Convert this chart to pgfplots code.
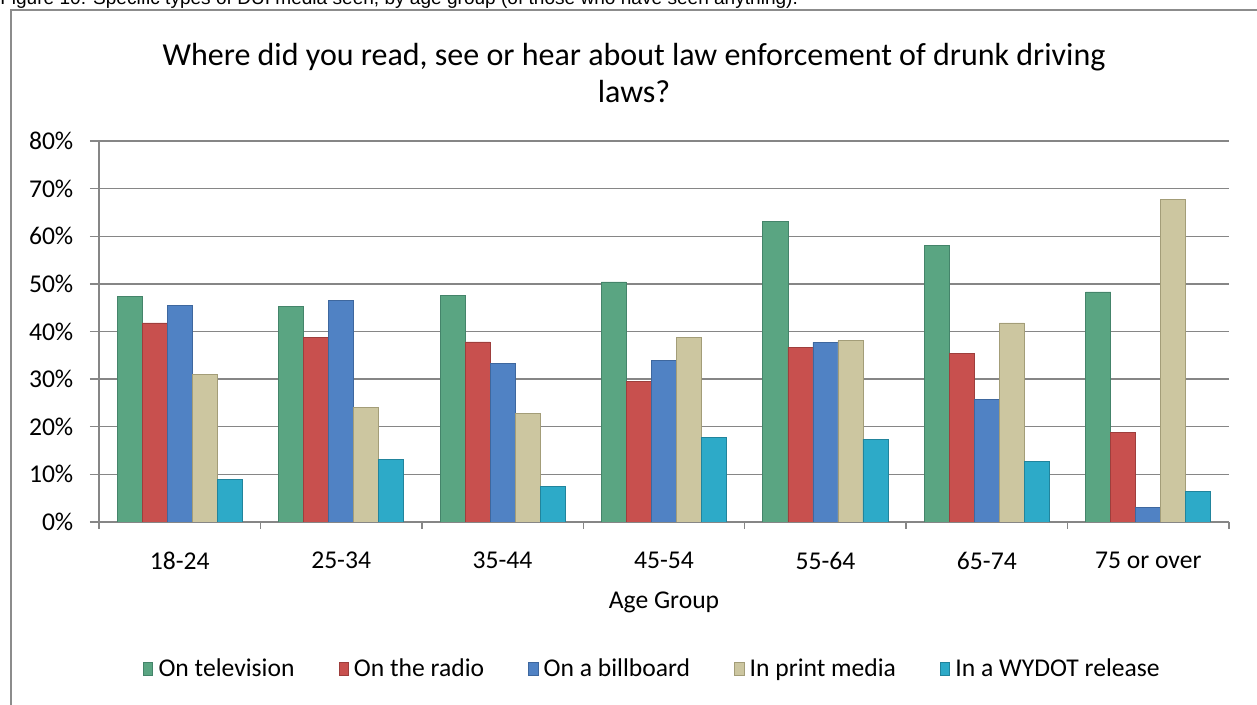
\documentclass[border=0pt]{standalone}
\usepackage{fontspec}
\setmainfont{Carlito}
\newfontfamily\arialfont{Liberation Sans}
\usepackage{pgfplots}
\usepackage{pgfplotstable}
\pgfplotsset{compat=1.18}

\definecolor{tvfill}{HTML}{5AA582}
\definecolor{tvedge}{HTML}{44846A}
\definecolor{radiofill}{HTML}{C8504E}
\definecolor{radioedge}{HTML}{9E3E3C}
\definecolor{boardfill}{HTML}{5082C4}
\definecolor{boardedge}{HTML}{3E679E}
\definecolor{printfill}{HTML}{CCC6A0}
\definecolor{printedge}{HTML}{A39D78}
\definecolor{wydotfill}{HTML}{2DAAC8}
\definecolor{wydotedge}{HTML}{21849C}
\definecolor{gridgray}{HTML}{868686}
\definecolor{framegray}{HTML}{8C8C8C}

% share of respondents (%) by age group
\pgfplotstableread{
grp tv radio billboard print wydot
0 47.3 41.8 45.4 31.0 9.0
1 45.3 38.7 46.6 24.0 13.2
2 47.6 37.8 33.2 22.7 7.4
3 50.4 29.6 34.0 38.7 17.7
4 63.2 36.7 37.7 38.1 17.4
5 58.0 35.4 25.8 41.8 12.8
6 48.3 18.8 3.1 67.8 6.4
}\datatable

\newcommand{\bodyfont}{\fontsize{19.2}{23}\selectfont}

\begin{document}
\begin{tikzpicture}[x=0.75pt,y=0.75pt]
\useasboundingbox (0,0) rectangle (1257,705);
\begin{scope}
  \clip (0,0) rectangle (1257,705);
  \draw[framegray, line width=1.5pt] (10.5,695) rectangle (1258.5,-30);
  \node[anchor=base west, inner sep=0pt, font=\arialfont\fontsize{14.3}{16}\selectfont]
    at (0,700.5) {Figure 10. Specific types of DUI media seen, by age group (of those who have seen anything).};
\end{scope}
\node[anchor=base, inner sep=0pt, font=\fontsize{24}{28}\selectfont]
  at (634,639) {Where did you read, see or hear about law enforcement of drunk driving};
\node[anchor=base, inner sep=0pt, font=\fontsize{24}{28}\selectfont]
  at (634,602) {laws?};
\begin{axis}[
  at={(74.25pt,137.25pt)}, anchor=south west,
  scale only axis, width=847.5pt, height=285.75pt,
  ybar=0pt, bar width=0.155,
  xmin=-0.5, xmax=6.5, ymin=0, ymax=80,
  axis lines*=left,
  axis line style={gridgray, line width=1.1pt},
  xtick={0,...,6},
  xticklabels={18-24,25-34,35-44,45-54,55-64,65-74,75 or over},
  xtick style={draw=none},
  minor xtick={-0.5,0.5,...,6.5},
  minor x tick style={draw=gridgray, line width=1.1pt},
  minor tick length=5pt,
  ytick={0,10,...,80},
  yticklabels={0\%,10\%,20\%,30\%,40\%,50\%,60\%,70\%,80\%},
  ytick style={draw=gridgray, line width=1.1pt},
  major tick length=6.75pt,
  tick align=outside,
  ymajorgrids,
  major grid style={gridgray, line width=1.1pt},
  tick label style={font=\bodyfont, text=black},
  yticklabel style={xshift=-9pt},
  xticklabel style={yshift=-12.5pt},
  xlabel={Age Group},
  xlabel style={font=\bodyfont, at={(axis description cs:0.5,-0.21)}, anchor=center},
  legend columns=5,
  legend style={at={(0.49,-0.386)}, anchor=center, draw=none, fill=none,
    font=\bodyfont, /tikz/every even column/.append style={column sep=31pt},
    /tikz/every odd column/.append style={column sep=2pt}},
  legend image code/.code={\draw[#1, line width=0.6pt] (0pt,-5pt) rectangle (7pt,5pt);},
  every axis plot/.append style={line width=0.6pt},
]
\addplot[fill=tvfill, draw=tvedge] table[x=grp, y=tv] {\datatable};
\addplot[fill=radiofill, draw=radioedge] table[x=grp, y=radio] {\datatable};
\addplot[fill=boardfill, draw=boardedge] table[x=grp, y=billboard] {\datatable};
\addplot[fill=printfill, draw=printedge] table[x=grp, y=print] {\datatable};
\addplot[fill=wydotfill, draw=wydotedge] table[x=grp, y=wydot] {\datatable};
\legend{On television, On the radio, On a billboard, In print media, In a WYDOT release}
\end{axis}
\end{tikzpicture}
\end{document}
